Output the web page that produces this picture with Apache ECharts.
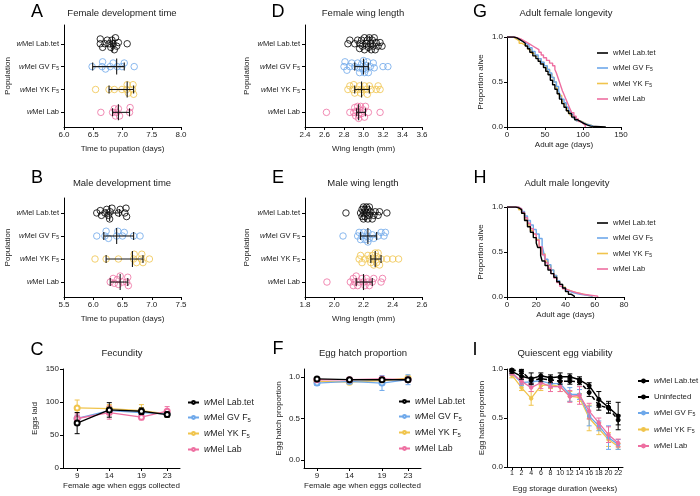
<!DOCTYPE html>
<html><head><meta charset="utf-8">
<script src="https://cdn.jsdelivr.net/npm/echarts@6/dist/echarts.min.js"></script>
<style>html,body{margin:0;padding:0;background:#fff}#c{width:700px;height:496px}</style>
</head><body><div id="c"></div>
<script>
// ---------------- DATA ----------------
// population tick labels (bottom -> top)
const popLabels = ['wMel Lab', 'wMel YK F5', 'wMel GV F5', 'wMel Lab.tet'];
// A: female development time (days) [Lab.tet, GV, YK, Lab]
const aTet = [6.62,6.62,6.66,6.70,6.74,6.77,6.80,6.82,6.84,6.86,6.88,6.90,6.93,7.08];
const aGV  = [6.48,6.65,6.66,6.71,6.79,6.84,6.91,6.99,7.03,7.20];
const aYK  = [6.54,6.77,6.86,6.99,7.07,7.08,7.10,7.17,7.18,7.19];
const aLab = [6.63,6.83,6.86,6.88,6.90,6.93,6.95,7.12,7.13];
const aMed = [6.83,6.90,7.08,6.93], aLo = [6.80,6.49,6.77,6.83], aHi = [6.87,7.03,7.19,7.12];
// B: male development time
const bTet = [6.06,6.12,6.14,6.20,6.23,6.26,6.28,6.29,6.32,6.43,6.46,6.54,6.57,6.56];
const bGV  = [6.06,6.20,6.22,6.26,6.40,6.42,6.50,6.53,6.69,6.80];
const bYK  = [6.03,6.22,6.43,6.69,6.70,6.74,6.82,6.83,6.85,6.96];
const bLab = [6.29,6.34,6.36,6.41,6.43,6.46,6.50,6.57,6.60,6.59];
const bMed = [6.28,6.40,6.67,6.46], bLo = [6.22,6.18,6.22,6.29], bHi = [6.45,6.69,6.85,6.59];
// D: female wing length (mm)
const dTet = [2.84,2.86,2.91,2.94,2.96,2.96,2.98,2.99,3.01,3.01,3.03,3.04,3.05,3.06,3.07,3.08,3.09,3.10,3.11,3.12,3.13,3.15,3.17,3.19];
const dGV  = [2.80,2.81,2.83,2.86,2.88,2.91,2.94,2.95,2.96,2.98,2.99,3.00,3.01,3.02,3.03,3.04,3.05,3.07,3.10,3.11,3.20,3.25];
const dYK  = [2.84,2.86,2.89,2.90,2.91,2.94,2.96,2.97,2.98,3.01,3.03,3.04,3.06,3.08,3.13,3.15,3.17];
const dLab = [2.62,2.86,2.90,2.91,2.92,2.93,2.94,2.95,2.95,2.96,2.97,2.98,3.00,3.01,3.02,3.05,3.17];
const dMed = [3.06,3.00,2.98,2.95], dLo = [3.00,2.91,2.91,2.93], dHi = [3.10,3.05,3.06,3.02];
// E: male wing length (mm)
const eTet = [2.08,2.18,2.19,2.19,2.20,2.20,2.20,2.21,2.21,2.22,2.22,2.23,2.23,2.24,2.24,2.25,2.26,2.27,2.28,2.30,2.31,2.36];
const eGV  = [2.06,2.16,2.17,2.18,2.19,2.20,2.21,2.22,2.23,2.23,2.24,2.26,2.27,2.30,2.32,2.34,2.35];
const eYK  = [2.17,2.18,2.19,2.21,2.23,2.24,2.25,2.26,2.27,2.27,2.28,2.29,2.29,2.30,2.31,2.32,2.36,2.40,2.44];
const eLab = [1.95,2.11,2.13,2.13,2.14,2.15,2.16,2.17,2.19,2.20,2.21,2.22,2.23,2.24,2.26,2.27,2.32,2.33];
const eMed = [2.21,2.23,2.28,2.20], eLo = [2.19,2.18,2.25,2.15], eHi = [2.25,2.29,2.32,2.26];
// G: adult female survival [day, proportion alive]
const gTet = [[0,1],[9,0.99],[13,0.97],[17,0.95],[21,0.93],[24,0.90],[27,0.87],[30,0.83],[34,0.79],[38,0.76],[41,0.73],[44,0.70],[48,0.66],[51,0.62],[54,0.58],[57,0.52],[60,0.47],[63,0.42],[66,0.37],[69,0.31],[72,0.26],[75,0.22],[78,0.18],[81,0.15],[85,0.11],[89,0.08],[93,0.06],[97,0.04],[101,0.02],[106,0.01],[110,0],[130,0]];
const gGV  = [[0,1],[9,0.99],[13,0.97],[17,0.95],[21,0.93],[25,0.91],[29,0.88],[33,0.84],[37,0.80],[41,0.76],[45,0.72],[49,0.68],[53,0.64],[56,0.60],[59,0.55],[62,0.50],[65,0.45],[68,0.40],[70,0.35],[72,0.31],[75,0.27],[78,0.22],[81,0.18],[84,0.14],[87,0.10],[91,0.07],[95,0.05],[100,0.03],[105,0.02],[110,0.01],[113,0]];
const gYK  = [[0,1],[8,0.98],[12,0.96],[16,0.93],[20,0.91],[24,0.89],[28,0.86],[32,0.82],[36,0.79],[40,0.76],[44,0.72],[48,0.68],[52,0.64],[56,0.59],[59,0.55],[62,0.50],[65,0.45],[67,0.40],[69,0.35],[72,0.30],[74,0.26],[77,0.22],[80,0.17],[83,0.13],[87,0.10],[91,0.07],[96,0.05],[101,0.03],[106,0.02],[111,0.01],[113,0]];
const gLab = [[0,1],[10,0.99],[14,0.98],[18,0.96],[22,0.94],[26,0.92],[30,0.90],[34,0.88],[38,0.86],[42,0.83],[45,0.80],[48,0.77],[52,0.74],[56,0.71],[60,0.68],[63,0.64],[65,0.60],[67,0.55],[69,0.50],[71,0.45],[73,0.40],[75,0.36],[77,0.32],[79,0.28],[81,0.24],[83,0.20],[85,0.16],[88,0.12],[91,0.09],[94,0.06],[97,0.04],[100,0.02],[103,0]];
// H: adult male survival
const hTet = [[0,1],[6,0.99],[8,0.97],[10,0.93],[12,0.85],[14,0.78],[16,0.72],[18,0.66],[20,0.60],[21,0.55],[23,0.46],[24,0.40],[26,0.35],[28,0.30],[30,0.26],[32,0.22],[34,0.17],[36,0.14],[38,0.10],[40,0.06],[42,0.03],[44,0.01],[46,0]];
const hGV  = [[0,1],[8,0.98],[10,0.95],[12,0.90],[14,0.85],[16,0.80],[18,0.75],[20,0.70],[22,0.65],[24,0.57],[25,0.50],[26,0.42],[28,0.36],[30,0.30],[32,0.24],[34,0.18],[36,0.14],[38,0.10],[40,0.07],[42,0.05],[45,0.03],[50,0.02],[55,0.01],[58,0]];
const hYK  = [[0,1],[8,0.97],[10,0.93],[12,0.86],[14,0.80],[16,0.74],[18,0.70],[20,0.64],[22,0.56],[24,0.48],[26,0.40],[28,0.35],[30,0.30],[32,0.24],[34,0.18],[36,0.14],[38,0.11],[40,0.08],[42,0.06],[45,0.04],[50,0.02],[55,0.01],[58,0]];
const hLab = [[0,1],[8,0.98],[10,0.94],[12,0.88],[14,0.82],[16,0.76],[18,0.70],[20,0.63],[22,0.56],[24,0.47],[26,0.38],[28,0.32],[30,0.26],[32,0.21],[34,0.16],[36,0.12],[38,0.09],[40,0.07],[43,0.05],[47,0.03],[52,0.02],[57,0.01],[62,0]];
// C: fecundity
const cDays = [9,14,19,23];
const cTet = [68,88,86,81], cTetErr = [16,11,5,4];
const cGV  = [75,87,84,82], cGVErr  = [5,5,6,4];
const cYK  = [91,90,87,82], cYKErr  = [12,6,9,5];
const cLab = [75,84,77,86], cLabErr = [7,10,4,7];
// F: egg hatch proportion
const fTet = [0.98,0.97,0.97,0.97], fTetErr = [0.02,0.02,0.02,0.02];
const fGV  = [0.93,0.95,0.93,0.97], fGVErr  = [0.03,0.02,0.09,0.06];
const fYK  = [0.95,0.94,0.96,0.99], fYKErr  = [0.02,0.02,0.02,0.01];
const fLab = [0.97,0.97,0.98,0.97], fLabErr = [0.01,0.01,0.01,0.01];
// I: quiescent egg viability
const iWeeks = ['1','2','4','6','8','10','12','14','16','18','20','22'];
const iTet = [0.976,0.925,0.90,0.93,0.91,0.92,0.92,0.89,0.83,0.69,0.61,0.52];
const iTetErr = [0.02,0.03,0.06,0.03,0.03,0.04,0.03,0.03,0.03,0.08,0.06,0.14];
const iUn  = [0.99,0.976,0.885,0.90,0.89,0.875,0.875,0.87,0.76,0.63,0.60,0.48];
const iUnErr = [0.01,0.02,0.03,0.03,0.03,0.03,0.03,0.03,0.04,0.05,0.05,0.05];
const iGV  = [0.96,0.86,0.87,0.88,0.85,0.85,0.74,0.74,0.52,0.42,0.30,0.23];
const iGVErr = [0.02,0.03,0.03,0.03,0.04,0.03,0.07,0.05,0.10,0.05,0.12,0.05];
const iYK  = [0.94,0.81,0.70,0.83,0.84,0.82,0.72,0.71,0.50,0.39,0.28,0.21];
const iYKErr = [0.03,0.03,0.07,0.05,0.04,0.05,0.05,0.04,0.13,0.06,0.07,0.03];
const iLab = [0.96,0.875,0.81,0.86,0.82,0.82,0.72,0.73,0.57,0.45,0.33,0.245];
const iLabErr = [0.02,0.03,0.04,0.06,0.05,0.05,0.06,0.09,0.08,0.05,0.08,0.04];

// ---------------- STYLE ----------------
const FONT = '"Liberation Sans", Arial, sans-serif';
const TXT = '#222';
const COL = {tet:'#000000', gv:'#6ea8ea', yk:'#f0c44c', lab:'#ee6fa1', un:'#000000'};
const FS = 8;        // tick labels
const FS_CAT = 7.5;  // population labels
const FS_NAME = 8;   // axis names
function mkRich(fs){ return {
  i:{fontStyle:'italic', fontSize:fs, fontFamily:FONT, color:TXT},
  s:{fontSize:Math.max(5, fs*0.68), fontFamily:FONT, color:TXT, padding:[Math.round(fs*0.55),0,0,0], verticalAlign:'bottom'}
};}
function richItalic(s){ return s.replace(/^w/, '{i|w}').replace(/F5$/, 'F{s|5}'); }
function richPlain(s){ return s.replace(/F5$/, 'F{s|5}'); }

const grids = [], xAxes = [], yAxes = [], series = [], legends = [], graphics = [];
function baseAxis(extra){
  return Object.assign({
    axisLine:{show:true, onZero:false, lineStyle:{color:'#000', width:1}},
    axisTick:{show:true, length:3, lineStyle:{color:'#000', width:1}},
    splitLine:{show:false},
    nameLocation:'middle',
    nameTextStyle:{color:TXT, fontSize:FS_NAME, fontFamily:FONT},
  }, extra);
}
function lbl(extra){ return Object.assign({color:TXT, fontSize:FS, fontFamily:FONT, margin:4}, extra); }
function addGrid(r){ grids.push({left:r[0], top:r[1], width:r[2], height:r[3]}); return grids.length-1; }

// beeswarm offsets (pixels) so circles overlap only partly
function swarm(vals, pxX, diam, maxOff){
  const order = vals.map((v,i)=>i).sort((a,b)=>vals[a]-vals[b]);
  const placed = [], off = new Array(vals.length).fill(0);
  for (const i of order){
    const x = vals[i]*pxX;
    let best = 0, bestScore = Infinity;
    for (let k=0;k<40;k++){
      const cand = (k%2 ? 1 : -1) * Math.ceil(k/2) * 1.2;
      if (Math.abs(cand) > maxOff) break;
      let minD = Infinity;
      for (const p of placed){ const dx=x-p[0], dy=cand-p[1]; minD = Math.min(minD, Math.sqrt(dx*dx+dy*dy)); }
      if (minD >= diam){ best = cand; bestScore = -1; break; }
      if (-minD < bestScore){ bestScore = -minD; best = cand; }
    }
    off[i]=best; placed.push([x,best]);
  }
  return off;
}
function errH(params, api){
  const y = api.value(3);
  const pm = api.coord([api.value(0), y]), pl = api.coord([api.value(1), y]), ph = api.coord([api.value(2), y]);
  const st = {stroke:'#1a1a1a', lineWidth:1.1};
  return {type:'group', children:[
    {type:'line', shape:{x1:pl[0], y1:pl[1], x2:ph[0], y2:ph[1]}, style:st},
    {type:'line', shape:{x1:pl[0], y1:pl[1]-4, x2:pl[0], y2:pl[1]+4}, style:st},
    {type:'line', shape:{x1:ph[0], y1:ph[1]-4, x2:ph[0], y2:ph[1]+4}, style:st},
    {type:'line', shape:{x1:pm[0], y1:pm[1]-8, x2:pm[0], y2:pm[1]+8}, style:st}]};
}
function errV(color){
  return function(params, api){
    const x = api.value(0);
    const pl = api.coord([x, api.value(1)]), ph = api.coord([x, api.value(2)]);
    const st = {stroke:color, lineWidth:1};
    return {type:'group', children:[
      {type:'line', shape:{x1:pl[0], y1:pl[1], x2:ph[0], y2:ph[1]}, style:st},
      {type:'line', shape:{x1:pl[0]-2.5, y1:pl[1], x2:pl[0]+2.5, y2:pl[1]}, style:st},
      {type:'line', shape:{x1:ph[0]-2.5, y1:ph[1], x2:ph[0]+2.5, y2:ph[1]}, style:st}]};
  };
}

// ------------- dot plot panels -------------
function dotPanel(rect, xr, yr, groups, med, lo, hi, xName, xGap, yGap){
  const gi = addGrid(rect);
  xAxes.push(baseAxis({gridIndex:gi, type:'value', min:xr[0], max:xr[1], interval:xr[2],
    axisLabel:lbl({formatter:v=>v.toFixed(1)}), name:xName, nameGap:xGap}));
  yAxes.push(baseAxis({gridIndex:gi, type:'value', min:yr[0], max:yr[1],
    axisLabel:lbl({customValues:[0,1,2,3], fontSize:FS_CAT, formatter:v=>richItalic(popLabels[Math.round(v)]), rich:mkRich(FS_CAT), margin:5}),
    axisTick:{show:true, length:3, customValues:[0,1,2,3], lineStyle:{color:'#000'}},
    name:'Population', nameGap:yGap}));
  const xi = xAxes.length-1, yi = yAxes.length-1;
  const pxX = rect[2]/(xr[1]-xr[0]), pxY = rect[3]/(yr[1]-yr[0]);
  const cols = [COL.tet, COL.gv, COL.yk, COL.lab];
  groups.forEach((vals, g)=>{
    const cat = 3-g;
    const offs = swarm(vals, pxX, 3.8, 6.5);
    series.push({type:'scatter', xAxisIndex:xi, yAxisIndex:yi, symbol:'circle', symbolSize:6.5, silent:true, z:2,
      itemStyle:{color:'rgba(255,255,255,0)', borderColor:cols[g], borderWidth:1},
      data: vals.map((v,i)=>[v, cat + offs[i]/pxY])});
  });
  series.push({type:'custom', xAxisIndex:xi, yAxisIndex:yi, renderItem:errH, silent:true, z:3,
    data: med.map((m,g)=>[m, lo[g], hi[g], 3-g])});
}
dotPanel([64,25,117,102], [6,8,0.5], [-0.64,3.82], [aTet,aGV,aYK,aLab], aMed,aLo,aHi, 'Time to pupation (days)', 18, 52);
dotPanel([64,198,117,99], [5.5,7.5,0.5], [-0.65,3.65], [bTet,bGV,bYK,bLab], bMed,bLo,bHi, 'Time to pupation (days)', 18, 52);
dotPanel([305,25,117,102], [2.4,3.6,0.2], [-0.64,3.82], [dTet,dGV,dYK,dLab], dMed,dLo,dHi, 'Wing length (mm)', 18, 54);
dotPanel([305,198,117,99], [1.8,2.6,0.2], [-0.65,3.65], [eTet,eGV,eYK,eLab], eMed,eLo,eHi, 'Wing length (mm)', 18, 54);

// ------------- survival panels -------------
const legendText = {};
function kmPanel(rect, xr, list, legPos, tag){
  const gi = addGrid(rect);
  xAxes.push(baseAxis({gridIndex:gi, type:'value', min:xr[0], max:xr[1], interval:xr[2],
    axisLabel:lbl({}), name:'Adult age (days)', nameGap:14}));
  yAxes.push(baseAxis({gridIndex:gi, type:'value', min:0, max:1, interval:0.5,
    axisLabel:lbl({formatter:v=>v.toFixed(1)}), name:'Proportion alive', nameGap:22}));
  const xi = xAxes.length-1, yi = yAxes.length-1;
  const names = [];
  list.forEach((s, k)=>{
    const nm = tag + k; names.push(nm); legendText[nm] = richPlain(s.label);
    series.push({type:'line', name:nm, xAxisIndex:xi, yAxisIndex:yi, data:s.data, step:'end', symbol:'none',
      lineStyle:{color:s.color, width:1.4}, itemStyle:{color:s.color}, z:s.z, silent:true});
  });
  legends.push({orient:'vertical', left:legPos[0], top:legPos[1], padding:0, itemWidth:11, itemHeight:1.6, itemGap:7,
    icon:'rect', selectedMode:false, data:names, formatter:n=>legendText[n],
    textStyle:{color:TXT, fontSize:7.5, fontFamily:FONT, rich:mkRich(7.5)}});
}
kmPanel([507,37,114,90], [0,150,50], [
  {label:'wMel Lab.tet', data:gTet, color:COL.tet, z:5},
  {label:'wMel GV F5', data:gGV, color:COL.gv, z:3},
  {label:'wMel YK F5', data:gYK, color:COL.yk, z:2},
  {label:'wMel Lab', data:gLab, color:COL.lab, z:4}], [597,49], 'G');
kmPanel([507,207,117,90], [0,80,20], [
  {label:'wMel Lab.tet', data:hTet, color:COL.tet, z:5},
  {label:'wMel GV F5', data:hGV, color:COL.gv, z:3},
  {label:'wMel YK F5', data:hYK, color:COL.yk, z:2},
  {label:'wMel Lab', data:hLab, color:COL.lab, z:4}], [597,219], 'H');

// ------------- line panels with error bars -------------
function linePanel(rect, xCfg, yCfg, list, legPos, tag, xName, xGap, yName, yGap, legGap, legFs){
  const gi = addGrid(rect);
  xAxes.push(baseAxis(Object.assign({gridIndex:gi, name:xName, nameGap:xGap}, xCfg)));
  yAxes.push(baseAxis(Object.assign({gridIndex:gi, name:yName, nameGap:yGap}, yCfg)));
  const xi = xAxes.length-1, yi = yAxes.length-1;
  const names = [];
  list.forEach((s,k)=>{
    const nm = tag + k; names.push(nm); legendText[nm] = richItalic(s.label);
    series.push({type:'custom', xAxisIndex:xi, yAxisIndex:yi, renderItem:errV(s.color), silent:true, z:s.z,
      data: s.y.map((v,j)=>[s.x[j], v - s.err[j], v + s.err[j]])});
    series.push({type:'line', name:nm, xAxisIndex:xi, yAxisIndex:yi, silent:true, z:s.z,
      data: s.y.map((v,j)=>[s.x[j], v]), symbol:s.symbol, symbolSize:s.size,
      lineStyle:{color:s.color, width:s.width, type:s.dash || 'solid'},
      itemStyle:{color:s.color, borderColor:s.color, borderWidth:1}});
  });
  legends.push({orient:'vertical', left:legPos[0], top:legPos[1], padding:0, itemWidth:11, itemHeight:3.5, itemGap:legGap,
    selectedMode:false, data:names, formatter:n=>legendText[n],
    textStyle:{color:TXT, fontSize:legFs, fontFamily:FONT, rich:mkRich(legFs)}});
}
function mk(label, x, y, err, color, z, symbol, size, width, dash){ return {label,x,y,err,color,z,symbol,size,width,dash}; }

linePanel([63,369,117,99],
  {type:'value', min:6.8, max:25, axisLabel:lbl({customValues:cDays}), axisTick:{show:true, length:3, customValues:cDays, lineStyle:{color:'#000'}}},
  {type:'value', min:0, max:150, interval:50, axisLabel:lbl({})},
  [mk('wMel Lab.tet', cDays, cTet, cTetErr, COL.tet, 5, 'emptyCircle', 5, 1.3),
   mk('wMel GV F5', cDays, cGV, cGVErr, COL.gv, 3, 'emptyCircle', 5, 1.3),
   mk('wMel YK F5', cDays, cYK, cYKErr, COL.yk, 2, 'emptyCircle', 5, 1.3),
   mk('wMel Lab', cDays, cLab, cLabErr, COL.lab, 4, 'emptyCircle', 5, 1.3)],
  [187,398], 'C', 'Female age when eggs collected', 14, 'Eggs laid', 24, 6, 8.8);

linePanel([304,369,117,99],
  {type:'value', min:7, max:25, axisLabel:lbl({customValues:cDays}), axisTick:{show:true, length:3, customValues:cDays, lineStyle:{color:'#000'}}},
  {type:'value', min:-0.1, max:1.1, axisLabel:lbl({customValues:[0,0.5,1], formatter:v=>v.toFixed(1)}), axisTick:{show:true, length:3, customValues:[0,0.5,1], lineStyle:{color:'#000'}}},
  [mk('wMel Lab.tet', cDays, fTet, fTetErr, COL.tet, 5, 'emptyCircle', 5, 1.3),
   mk('wMel GV F5', cDays, fGV, fGVErr, COL.gv, 3, 'emptyCircle', 5, 1.3),
   mk('wMel YK F5', cDays, fYK, fYKErr, COL.yk, 2, 'emptyCircle', 5, 1.3),
   mk('wMel Lab', cDays, fLab, fLabErr, COL.lab, 4, 'emptyCircle', 5, 1.3)],
  [398,397], 'F', 'Female age when eggs collected', 14, 'Egg hatch proportion', 21, 6, 8.8);

const iIdx = iWeeks.map((w,i)=>i);
linePanel([507,369,116,98],
  {type:'category', data:iWeeks, boundaryGap:true, axisLabel:lbl({interval:0, fontSize:7, margin:3}), axisTick:{show:true, length:3, alignWithLabel:true, interval:0, lineStyle:{color:'#000'}}},
  {type:'value', min:0, max:1, interval:0.5, axisLabel:lbl({formatter:v=>v.toFixed(1)})},
  [mk('wMel Lab.tet', iIdx, iTet, iTetErr, COL.tet, 6, 'circle', 4, 1.5),
   mk('Uninfected', iIdx, iUn, iUnErr, COL.un, 5, 'circle', 4, 1.5, [4,3]),
   mk('wMel GV F5', iIdx, iGV, iGVErr, COL.gv, 3, 'circle', 3.5, 1.3),
   mk('wMel YK F5', iIdx, iYK, iYKErr, COL.yk, 2, 'circle', 3.5, 1.3),
   mk('wMel Lab', iIdx, iLab, iLabErr, COL.lab, 4, 'circle', 3.5, 1.3)],
  [637,377], 'I', 'Egg storage duration (weeks)', 18, 'Egg hatch proportion', 21, 8, 7.8);

// ------------- titles and panel letters -------------
const panelText = [
  ['A',37,12,'Female development time',122,13],
  ['D',278,12,'Female wing length',363,13],
  ['G',480,12,'Adult female longevity',566,13],
  ['B',37,178,'Male development time',122,183],
  ['E',278,178,'Male wing length',363,183],
  ['H',480,178,'Adult male longevity',567,183],
  ['C',37,350,'Fecundity',122,353],
  ['F',278,349,'Egg hatch proportion',363,353],
  ['I',475,350,'Quiescent egg viability',565,353]
];
panelText.forEach(p=>{
  graphics.push({type:'text', x:p[1], y:p[2], style:{text:p[0], fill:'#000', font:'18px '+FONT, textAlign:'center', textVerticalAlign:'middle'}});
  graphics.push({type:'text', x:p[4], y:p[5], style:{text:p[3], fill:TXT, font:'9.5px '+FONT, textAlign:'center', textVerticalAlign:'middle'}});
});

const chart = echarts.init(document.getElementById('c'), null, {renderer:'canvas'});
chart.setOption({
  animation:false,
  backgroundColor:'#fff',
  grid:grids, xAxis:xAxes, yAxis:yAxes, series:series, legend:legends, graphic:graphics
});
</script>
</body></html>
